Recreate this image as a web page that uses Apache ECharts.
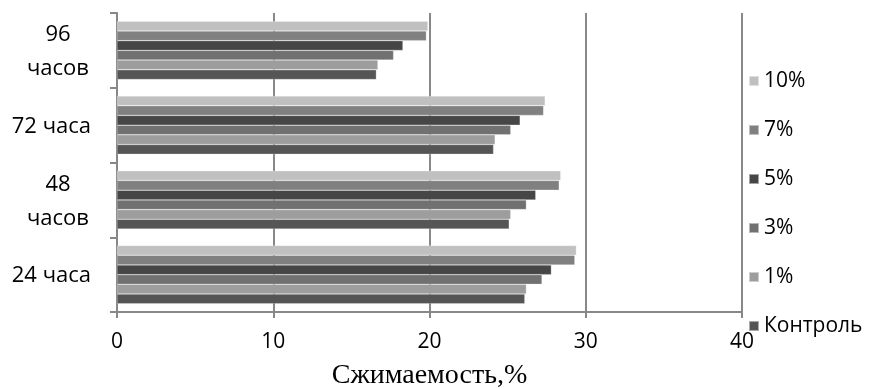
<!DOCTYPE html>
<html><head><meta charset="utf-8">
<script src="https://cdn.jsdelivr.net/npm/echarts@6/dist/echarts.min.js"></script>
<style>html,body{margin:0;padding:0;background:#fff}#c{width:884px;height:389px}</style>
</head><body><div id="c"></div>
<script>
const categories = ['24 часа', '48\nчасов', '72 часа', '96\nчасов'];
const seriesNames = ['10%', '7%', '5%', '3%', '1%', 'Контроль'];
const p10 = [29.4, 28.4, 27.4, 19.9];
const p7 = [29.3, 28.3, 27.3, 19.8];
const p5 = [27.8, 26.8, 25.8, 18.3];
const p3 = [27.2, 26.2, 25.2, 17.7];
const p1 = [26.2, 25.2, 24.2, 16.7];
const control = [26.1, 25.1, 24.1, 16.6];
const xTicks = [0, 10, 20, 30, 40];
const xTitle = 'Сжимаемость,%';

const values = [p10, p7, p5, p3, p1, control];
const colors = ['#c0c0c0', '#808080', '#464646', '#717171', '#9d9d9d', '#555555'];
const font = '"Open Sans", sans-serif';

const chart = echarts.init(document.getElementById('c'), null, {renderer: 'canvas'});
chart.setOption({
  animation: false,
  backgroundColor: '#fff',
  grid: {left: 117, right: 142, top: 13, bottom: 77, containLabel: false, outerBoundsMode: 'none'},
  legend: {
    orient: 'vertical', left: 743, top: 64,
    data: seriesNames,
    itemWidth: 10, itemHeight: 10, itemGap: 25,
    icon: 'rect',
    textStyle: {fontFamily: font, fontSize: 21, color: '#000', lineHeight: 24}
  },
  xAxis: {
    type: 'value', min: xTicks[0], max: xTicks[xTicks.length - 1], interval: 10,
    name: xTitle, nameLocation: 'middle', nameGap: 50,
    nameTextStyle: {fontFamily: '"Liberation Serif", serif', fontSize: 28, color: '#000'},
    axisLine: {show: true, lineStyle: {color: '#888', width: 2}},
    axisTick: {show: true, length: 6, lineStyle: {color: '#888', width: 2}},
    axisLabel: {fontFamily: font, fontSize: 21, color: '#000', margin: 20},
    splitLine: {show: true, lineStyle: {color: '#888', width: 2}}
  },
  yAxis: {
    type: 'category', data: categories,
    axisLine: {show: true, lineStyle: {color: '#888', width: 2}},
    axisTick: {show: true, length: 7, lineStyle: {color: '#888', width: 2}},
    axisLabel: {
      fontFamily: font, fontSize: 22, color: '#000', margin: 26, align: 'right',
      padding: [3, 0, 0, 0],
      formatter: function (v) {
        if (v.indexOf('\n') >= 0) {
          return v.split('\n').map(s => '{w|' + s + '}').join('\n');
        }
        return v;
      },
      rich: {w: {width: 66, align: 'center', fontFamily: font, fontSize: 22, color: '#000', lineHeight: 34}}
    }
  },
  series: seriesNames.map((n, i) => ({
    name: n, type: 'bar', data: values[i],
    barGap: '0%', barCategoryGap: '22%',
    itemStyle: {color: colors[i], borderColor: 'rgba(255,255,255,0.5)', borderWidth: 0.5}
  }))
});
</script></body></html>
